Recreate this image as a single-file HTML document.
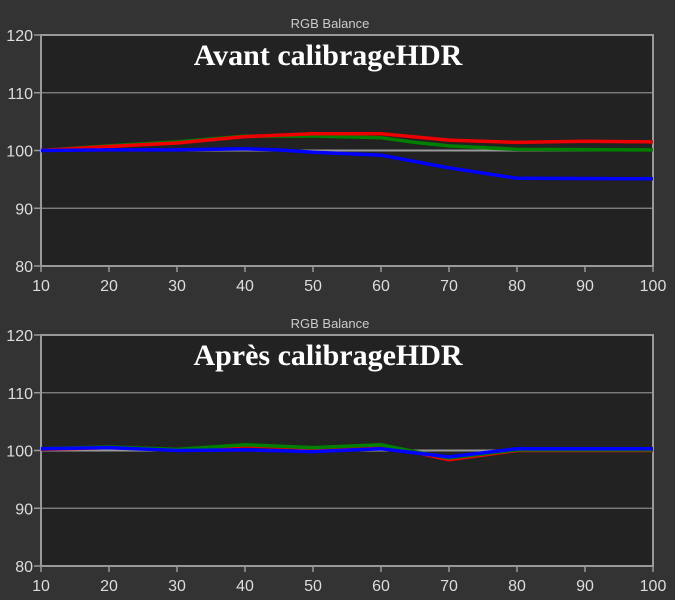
<!DOCTYPE html>
<html><head><meta charset="utf-8"><style>
html,body{margin:0;padding:0;background:#333;}
svg{display:block;}
</style></head><body>
<svg id="s" width="675" height="600" xmlns="http://www.w3.org/2000/svg" font-family="Liberation Sans, sans-serif">
<rect width="675" height="600" fill="#333"/>
</svg>
<script>
var s=document.getElementById('s'),NS='http://www.w3.org/2000/svg';
function el(t,a,txt){var e=document.createElementNS(NS,t);for(var k in a)e.setAttribute(k,a[k]);if(txt)e.textContent=txt;s.appendChild(e);return e;}
function X(v){return 41+(v-10)*6.8;}
function chart(top,title,series){
  function Y(v){return top+(120-v)*5.775;}
  el('rect',{x:41,y:top,width:612,height:231,fill:'#222'});
  el('text',{x:330,y:top-7,fill:'#ccc','font-size':13,'text-anchor':'middle'},'RGB Balance');
  [110,100,90].forEach(function(v){el('line',{x1:41,x2:653,y1:Y(v),y2:Y(v),stroke:v==100?'#999':'#888','stroke-width':v==100?2:1.3});});
  el('rect',{x:41,y:top,width:612,height:231,fill:'none',stroke:'#999','stroke-width':2});
  [120,110,100,90,80].forEach(function(v){var y=Y(v);el('line',{x1:34,x2:41,y1:y,y2:y,stroke:'#999','stroke-width':1.5});
    el('text',{x:33,y:y+6,fill:'#ddd','font-size':16,'text-anchor':'end'},v);});
  for(var v=10;v<=100;v+=10){var x=X(v);el('line',{x1:x,x2:x,y1:top+231,y2:top+237,stroke:'#999','stroke-width':1.5});
    el('text',{x:x,y:top+256,fill:'#ddd','font-size':16,'text-anchor':'middle'},v);}
  series.forEach(function(sr){el('polyline',{points:sr[1].map(function(p){return X(p[0])+','+Y(p[1]);}).join(' '),fill:'none',stroke:sr[0],'stroke-width':3.5,'stroke-linejoin':'round'});});
  el('text',{x:328,y:top+30,fill:'#fff','font-size':30,'font-weight':'bold','font-family':'Liberation Serif, serif','text-anchor':'middle'},title);
}
chart(35,'Avant calibrageHDR',[
 ['#007f00',[[10,100],[20,100.8],[30,101.5],[40,102.5],[50,102.5],[60,102.2],[65,101.4],[70,100.8],[80,100.2],[100,100.1]]],
 ['#e00',[[10,100],[20,100.7],[30,101.3],[40,102.4],[50,102.9],[60,102.9],[70,101.8],[80,101.4],[90,101.6],[100,101.5]]],
 ['#00f',[[10,100],[20,100.1],[30,100.1],[40,100.3],[45,100.1],[50,99.7],[60,99.2],[70,97],[80,95.2],[100,95.1]]]
]);
chart(335,'Après calibrageHDR',[
 ['#e00',[[10,100.2],[20,100.5],[30,100.1],[40,100.8],[50,100.4],[60,100.9],[65,99.7],[70,98.4],[80,100],[100,100]]],
 ['#007f00',[[10,100.3],[20,100.6],[30,100.2],[40,101],[50,100.5],[60,101],[65,99.8],[70,98.7],[80,100.1],[100,100.1]]],
 ['#00f',[[10,100.3],[20,100.5],[30,100],[40,100.1],[50,99.8],[60,100.3],[70,98.9],[80,100.3],[100,100.3]]]
]);
</script>
</body></html>
